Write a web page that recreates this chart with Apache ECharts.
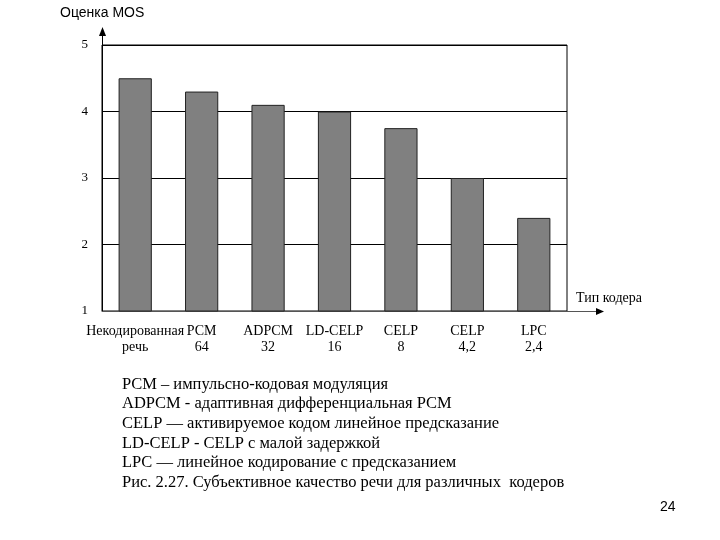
<!DOCTYPE html>
<html>
<head>
<meta charset="utf-8">
<script src="https://cdn.jsdelivr.net/npm/echarts@6/dist/echarts.min.js"></script>
<style>
html,body{margin:0;padding:0;background:#fff;}
#c{width:720px;height:540px;}
</style>
</head>
<body>
<div id="c"></div>
<script>
var categories = ['Некодированная\nречь', 'PCM\n64', 'ADPCM\n32', 'LD-CELP\n16', 'CELP\n8', 'CELP\n4,2', 'LPC\n2,4'];
var mosValues = [4.5, 4.3, 4.1, 4.0, 3.75, 3.0, 2.4];
var yTicks = [1, 2, 3, 4, 5];
var captionLines = [
  'PCM – импульсно-кодовая модуляция',
  'ADPCM - адаптивная дифференциальная PCM',
  'CELP — активируемое кодом линейное предсказание',
  'LD-CELP - CELP с малой задержкой',
  'LPC — линейное кодирование с предсказанием',
  'Рис. 2.27. Субъективное качество речи для различных  кодеров'
];
var yTitle = 'Оценка MOS';
var xTitle = 'Тип кодера';
var pageNumber = '24';

var chart = echarts.init(document.getElementById('c'), null, {renderer: 'canvas'});
var serif = '"Liberation Serif", "DejaVu Serif", serif';
var sans = '"Liberation Sans", Arial, sans-serif';

var graphics = [
  {type: 'text', left: 60, top: 6, style: {text: yTitle, font: '14px ' + sans, fill: '#000'}},
  {type: 'text', left: 576, top: 291, style: {text: xTitle, font: '14px ' + serif, fill: '#000'}},
  {type: 'text', left: 660, top: 500, style: {text: pageNumber, font: '14px ' + sans, fill: '#000'}},
  // y-axis extension and arrow
  {type: 'line', shape: {x1: 102.5, y1: 45, x2: 102.5, y2: 34}, style: {stroke: '#000', lineWidth: 1}},
  {type: 'polygon', shape: {points: [[102.5, 27], [99, 36], [106, 36]]}, style: {fill: '#000'}},
  // x-axis extension and arrow
  {type: 'line', shape: {x1: 567, y1: 311.5, x2: 597, y2: 311.5}, style: {stroke: '#555', lineWidth: 1}},
  {type: 'polygon', shape: {points: [[604, 311.5], [596, 308], [596, 315]]}, style: {fill: '#000'}}
];
captionLines.forEach(function (t, i) {
  graphics.push({type: 'text', left: 122, top: 376 + i * 19.6, style: {text: t, font: '16.5px ' + serif, fill: '#000'}});
});

chart.setOption({
  animation: false,
  backgroundColor: '#fff',
  grid: {left: 102, right: 153, top: 45, bottom: 229, show: true, borderColor: '#000', borderWidth: 1, containLabel: false},
  xAxis: {
    type: 'category',
    data: categories,
    axisLine: {show: true, lineStyle: {color: '#555', width: 1}},
    axisTick: {show: false},
    axisLabel: {color: '#000', fontFamily: serif, fontSize: 14, lineHeight: 16, margin: 12, interval: 0}
  },
  yAxis: {
    type: 'value',
    min: yTicks[0],
    max: yTicks[yTicks.length - 1],
    interval: 1,
    axisLine: {show: true, lineStyle: {color: '#000', width: 1}},
    axisTick: {show: false},
    splitLine: {show: true, lineStyle: {color: '#000', width: 1}},
    axisLabel: {color: '#000', fontFamily: serif, fontSize: 13, margin: 14}
  },
  series: [{
    type: 'bar',
    data: mosValues,
    barWidth: '50%',
    itemStyle: {color: '#808080', borderColor: '#222', borderWidth: 1}
  }],
  graphic: graphics
});
</script>
</body>
</html>
